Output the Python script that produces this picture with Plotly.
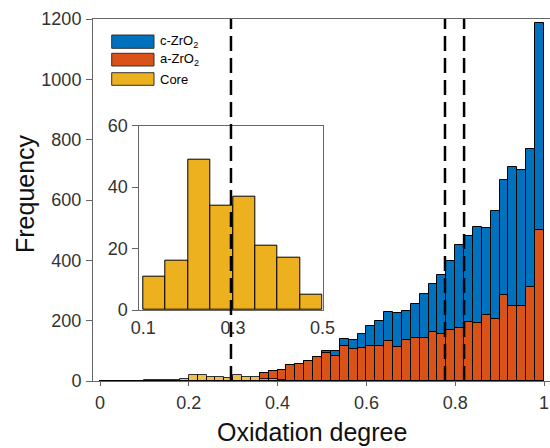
import numpy as np
import plotly.graph_objects as go

# ---------------- data ----------------
bin_width = 0.02
bin_centers = np.round(np.arange(0.01, 1.0, bin_width), 3)  # 50 bins, 0..1

c_zro2 = [0, 0, 0, 0, 0, 0, 0, 0, 0, 0, 0, 0, 0, 0, 0, 0, 0, 0,
          28, 32, 38, 54, 58, 66, 80, 100, 100, 139, 137, 157, 182, 198,
          228, 224, 233, 255, 288, 321, 352, 399, 450, 481, 512, 508, 563,
          665, 711, 698, 768, 1188]
a_zro2 = [0, 0, 0, 0, 0, 0, 0, 0, 0, 0, 0, 0, 0, 0, 0, 0, 0, 0,
          28, 32, 38, 54, 58, 66, 80, 92, 83, 116, 105, 109, 116, 116,
          134, 113, 137, 142, 142, 163, 155, 168, 175, 194, 191, 219, 207,
          284, 250, 250, 310, 499]
core_main = [0, 0, 0, 0, 0, 3, 3, 3, 3, 8, 19, 19, 13, 13, 11, 19, 13, 13,
             6, 5, 4, 0, 0, 0, 0, 0, 0, 0, 0, 0, 0, 0, 0, 0, 0, 0, 0, 0, 0,
             0, 0, 0, 0, 0, 0, 0, 0, 0, 0, 0]

inset_width = 0.05
inset_centers = [0.125, 0.175, 0.225, 0.275, 0.325, 0.375, 0.425, 0.475]
core_inset = [11, 16, 49, 34, 37, 21, 17, 5]

dashed_x = [0.295, 0.777, 0.82]

series_names = ["c-ZrO<sub>2</sub>", "a-ZrO<sub>2</sub>", "Core"]
series_colors = ["#0072BD", "#D95319", "#EDB120"]

main_yticks = [0, 200, 400, 600, 800, 1000, 1200]
main_xticks = [0, 0.2, 0.4, 0.6, 0.8, 1]
main_xticklabels = ["0", "0.2", "0.4", "0.6", "0.8", "1"]
inset_yticks = [0, 20, 40, 60]
inset_xticks = [0.1, 0.3, 0.5]

# ---------------- layout geometry (pixels) ----------------
W, H = 550, 448
L, R, T, B = 93, 550, 19, 381
pw, ph = R - L, B - T


def px(x):
    return (x - L) / pw


def py(y):
    return (B - y) / ph


FONT = "Liberation Sans, Arial, sans-serif"
AXC = "#666666"
TXC = "#333333"

fig = go.Figure()
line_style = dict(color="black", width=1)

fig.add_trace(go.Bar(x=bin_centers, y=c_zro2, width=bin_width, name="c-ZrO2",
                     marker=dict(color=series_colors[0], line=line_style),
                     showlegend=False, xaxis="x", yaxis="y"))
fig.add_trace(go.Bar(x=bin_centers, y=a_zro2, width=bin_width, name="a-ZrO2",
                     marker=dict(color=series_colors[1], line=line_style),
                     showlegend=False, xaxis="x", yaxis="y"))
fig.add_trace(go.Bar(x=bin_centers, y=core_main, width=bin_width, name="Core",
                     marker=dict(color=series_colors[2], line=line_style, opacity=0.8),
                     showlegend=False, xaxis="x", yaxis="y"))
fig.add_trace(go.Bar(x=inset_centers, y=core_inset, width=inset_width, name="Core (inset)",
                     marker=dict(color=series_colors[2], line=line_style),
                     showlegend=False, xaxis="x2", yaxis="y2"))

shapes = []
for xv in dashed_x:
    shapes.append(dict(type="line", xref="x", yref="y domain", x0=xv, x1=xv, y0=0, y1=1,
                       line=dict(color="black", width=2.5, dash="15px,7px"), layer="above"))

# manual legend
legend_rows = [(35, 48.3), (53.3, 66), (72.7, 85.3)]
annotations = []
for (y0, y1), name, col in zip(legend_rows, series_names, series_colors):
    shapes.append(dict(type="rect", xref="paper", yref="paper",
                       x0=px(111.7), x1=px(154), y0=py(y1), y1=py(y0),
                       fillcolor=col, line=dict(color="#333333", width=1), layer="above"))
    annotations.append(dict(xref="paper", yref="paper", x=px(158), y=py((y0 + y1) / 2),
                            xanchor="left", yanchor="middle", text=name, showarrow=False,
                            font=dict(family=FONT, size=13, color="black")))

# axis titles
annotations.append(dict(xref="paper", yref="paper", x=px(312), y=py(432), text="Oxidation degree",
                        showarrow=False, xanchor="center", yanchor="middle",
                        font=dict(family=FONT, size=25, color="#111111")))
annotations.append(dict(xref="paper", yref="paper", x=px(25), y=py(194), text="Frequency",
                        showarrow=False, xanchor="center", yanchor="middle", textangle=-90,
                        font=dict(family=FONT, size=25, color="#111111")))

x_min = -7 / 444
x_max = (R - 100) / 444

common_axis = dict(showline=True, linecolor=AXC, linewidth=1, mirror=True, showgrid=False,
                   zeroline=False, automargin=False, tickcolor=AXC,
                   tickfont=dict(family=FONT, size=18, color=TXC))

fig.update_layout(
    width=W, height=H,
    margin=dict(l=L, r=W - R, t=T, b=H - B, pad=0, autoexpand=False),
    paper_bgcolor="white", plot_bgcolor="white",
    barmode="overlay", bargap=0,
    showlegend=False,
    shapes=shapes, annotations=annotations,
    font=dict(family=FONT, size=18, color=TXC),
    xaxis=dict(domain=[0, 1], range=[x_min, x_max], tickvals=main_xticks,
               ticktext=main_xticklabels, ticks="outside", ticklen=4,
               ticklabelstandoff=1, **common_axis),
    yaxis=dict(domain=[0, 1], range=[0, 1200], tickvals=main_yticks, ticks="outside",
               ticklen=6, ticklabelstandoff=1, **common_axis),
    xaxis2=dict(domain=[px(139.3), px(322.7)], range=[0.091, 0.5005], anchor="y2",
                tickvals=inset_xticks, ticktext=["0.1", "0.3", "0.5"], ticks="",
                ticklabelstandoff=1, **common_axis),
    yaxis2=dict(domain=[py(310), py(125.7)], range=[0, 60], anchor="x2",
                tickvals=inset_yticks, ticks="outside", ticklen=6,
                ticklabelstandoff=1, **common_axis),
)

fig.write_html("out.html", config={"displayModeBar": False},
               post_script="document.body.style.margin='0px';"
                           "document.body.style.overflow='hidden';")
